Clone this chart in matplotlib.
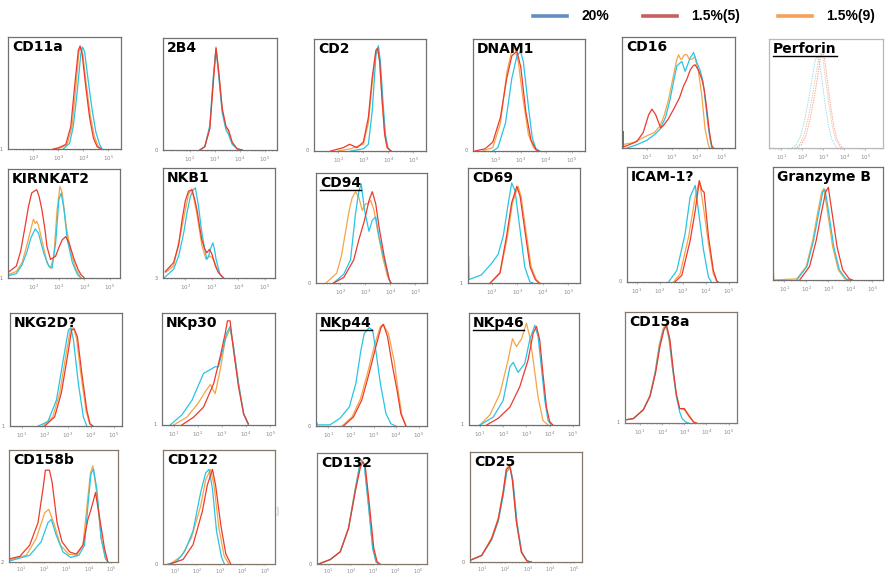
import numpy as np
import matplotlib

matplotlib.use("Agg")
import matplotlib.pyplot as plt  # noqa: E402
from matplotlib.lines import Line2D  # noqa: E402

W, H = 893, 578

SERIES = ["20%", "1.5%(5)", "1.5%(9)"]

# Curves: (log10 intensity, relative count), per marker.
CD11A = {
    "20%": ([3.2, 3.45, 3.6, 3.75, 3.9, 3.97, 4.05, 4.2, 4.35, 4.5, 4.65, 4.75],
            [0, 0.05, 0.2, 0.5, 0.85, 0.91, 0.87, 0.6, 0.35, 0.15, 0.04, 0]),
    "1.5%(5)": ([2.8, 3.0, 3.3, 3.5, 3.65, 3.8, 3.87, 3.95, 4.1, 4.25, 4.4, 4.55, 4.7],
                [0, 0.01, 0.04, 0.2, 0.55, 0.88, 0.92, 0.85, 0.55, 0.28, 0.1, 0.02, 0]),
    "1.5%(9)": ([2.9, 3.1, 3.35, 3.55, 3.7, 3.83, 3.9, 3.98, 4.12, 4.28, 4.43, 4.58, 4.72],
                [0, 0.01, 0.04, 0.2, 0.55, 0.88, 0.91, 0.85, 0.57, 0.3, 0.12, 0.03, 0]),
}
CD2B4 = {
    "20%": ([2.4, 2.6, 2.8, 2.95, 3.05, 3.15, 3.3, 3.45, 3.55, 3.7, 3.9, 4.1],
            [0, 0.03, 0.22, 0.68, 0.9, 0.68, 0.33, 0.18, 0.14, 0.05, 0.01, 0]),
    "1.5%(5)": ([2.4, 2.6, 2.8, 2.95, 3.05, 3.15, 3.3, 3.45, 3.55, 3.7, 3.9, 4.1],
                [0, 0.03, 0.19, 0.63, 0.91, 0.72, 0.37, 0.21, 0.18, 0.07, 0.01, 0]),
    "1.5%(9)": ([2.4, 2.6, 2.8, 2.95, 3.05, 3.15, 3.3, 3.45, 3.55, 3.7, 3.9, 4.1],
                [0, 0.03, 0.2, 0.65, 0.92, 0.71, 0.36, 0.2, 0.17, 0.06, 0.01, 0]),
}
CD2 = {
    "20%": ([2.5, 3.0, 3.2, 3.35, 3.5, 3.6, 3.68, 3.78, 3.88, 3.98, 4.1],
            [0, 0.02, 0.06, 0.35, 0.85, 0.94, 0.8, 0.45, 0.15, 0.03, 0]),
    "1.5%(5)": ([1.7, 2.2, 2.45, 2.75, 3.0, 3.2, 3.35, 3.5, 3.57, 3.65, 3.75, 3.85, 3.95, 4.1],
                [0, 0.03, 0.06, 0.03, 0.08, 0.3, 0.65, 0.9, 0.92, 0.8, 0.45, 0.15, 0.03, 0]),
    "1.5%(9)": ([2.0, 2.5, 3.0, 3.2, 3.35, 3.5, 3.57, 3.65, 3.75, 3.85, 3.95, 4.1],
                [0, 0.02, 0.06, 0.25, 0.6, 0.88, 0.91, 0.8, 0.45, 0.15, 0.03, 0]),
}
DNAM1 = {
    "20%": ([1.9, 2.1, 2.4, 2.65, 2.85, 2.99, 3.1, 3.3, 3.45, 3.6, 3.75],
            [0, 0.03, 0.25, 0.65, 0.85, 0.89, 0.8, 0.4, 0.12, 0.02, 0]),
    "1.5%(5)": ([1.2, 1.6, 1.9, 2.2, 2.45, 2.65, 2.85, 3.0, 3.2, 3.4, 3.6, 3.7],
                [0, 0.02, 0.08, 0.3, 0.65, 0.85, 0.89, 0.75, 0.35, 0.1, 0.01, 0]),
    "1.5%(9)": ([1.5, 1.9, 2.2, 2.45, 2.65, 2.75, 2.9, 3.1, 3.3, 3.5, 3.7],
                [0, 0.03, 0.25, 0.7, 0.9, 0.93, 0.8, 0.45, 0.15, 0.03, 0]),
}
CD16 = {
    "20%": ([1.2, 1.6, 2.0, 2.3, 2.53, 2.75, 2.93, 3.07, 3.2, 3.4, 3.53, 3.63, 3.73, 3.87,
             4.0, 4.13, 4.25, 4.33, 4.45, 4.53, 4.6],
            [0, 0.03, 0.07, 0.12, 0.17, 0.28, 0.44, 0.6, 0.74, 0.78, 0.69, 0.75, 0.81, 0.86,
             0.77, 0.7, 0.6, 0.44, 0.2, 0.08, 0]),
    "1.5%(5)": ([1.03, 1.04, 1.06, 1.3, 1.6, 1.85, 2.07, 2.2, 2.35, 2.55, 2.65, 2.85, 3.07,
                 3.3, 3.47, 3.6, 3.73, 3.85, 3.93, 4.07, 4.2, 4.3, 4.4, 4.5, 4.6, 4.67],
                [0, 0.15, 0.01, 0.03, 0.06, 0.14, 0.3, 0.35, 0.3, 0.18, 0.2, 0.26, 0.35,
                 0.45, 0.56, 0.62, 0.7, 0.74, 0.75, 0.7, 0.62, 0.52, 0.35, 0.15, 0.02, 0]),
    "1.5%(9)": ([1.02, 1.47, 2.0, 2.3, 2.53, 2.7, 2.87, 3.07, 3.2, 3.27, 3.35, 3.4, 3.5,
                 3.6, 3.7, 3.8, 3.93, 4.07, 4.2, 4.33, 4.47, 4.53],
                [0.03, 0.05, 0.11, 0.14, 0.2, 0.3, 0.44, 0.66, 0.8, 0.84, 0.8, 0.8, 0.84,
                 0.84, 0.8, 0.8, 0.82, 0.68, 0.47, 0.17, 0.02, 0]),
}
PERFORIN = {
    "20%": ([1.5, 1.7, 1.9, 2.1, 2.3, 2.5, 2.6, 2.7, 2.8, 2.95, 3.1, 3.25, 3.4, 3.6, 3.7],
            [0, 0.03, 0.1, 0.25, 0.45, 0.68, 0.8, 0.84, 0.8, 0.6, 0.38, 0.2, 0.08, 0.01, 0]),
    "1.5%(5)": ([1.75, 1.95, 2.15, 2.35, 2.55, 2.75, 2.85, 2.95, 3.05, 3.2, 3.35, 3.5,
                 3.65, 3.85, 3.95],
                [0, 0.03, 0.1, 0.25, 0.45, 0.68, 0.82, 0.89, 0.83, 0.6, 0.38, 0.2, 0.08,
                 0.01, 0]),
    "1.5%(9)": ([1.65, 1.85, 2.05, 2.25, 2.45, 2.65, 2.78, 2.88, 2.98, 3.12, 3.28, 3.42,
                 3.58, 3.78, 3.9],
                [0, 0.03, 0.1, 0.25, 0.45, 0.68, 0.82, 0.87, 0.82, 0.6, 0.38, 0.2, 0.08,
                 0.01, 0]),
}
KIRNKAT2 = {
    "20%": ([1.0, 1.33, 1.55, 1.73, 1.9, 2.07, 2.2, 2.4, 2.6, 2.73, 2.87, 3.0, 3.09, 3.2,
             3.33, 3.53, 3.73, 3.87],
            [0.02, 0.04, 0.12, 0.23, 0.37, 0.45, 0.41, 0.23, 0.11, 0.09, 0.32, 0.72, 0.78,
             0.63, 0.35, 0.14, 0.03, 0]),
    "1.5%(5)": ([1.0, 1.33, 1.5, 1.67, 1.8, 1.93, 2.05, 2.13, 2.22, 2.33, 2.45, 2.53, 2.67,
                 2.87, 3.0, 3.13, 3.27, 3.4, 3.6, 3.75, 3.87, 4.0],
                [0.05, 0.11, 0.25, 0.47, 0.65, 0.78, 0.8, 0.81, 0.75, 0.63, 0.45, 0.29, 0.17,
                 0.2, 0.28, 0.35, 0.38, 0.32, 0.17, 0.08, 0.03, 0]),
    "1.5%(9)": ([1.0, 1.33, 1.55, 1.73, 1.9, 2.0, 2.07, 2.13, 2.2, 2.33, 2.53, 2.67, 2.8,
                 2.93, 3.04, 3.13, 3.27, 3.47, 3.67, 3.87],
                [0.03, 0.06, 0.14, 0.29, 0.45, 0.54, 0.5, 0.52, 0.48, 0.35, 0.14, 0.09, 0.2,
                 0.63, 0.84, 0.78, 0.5, 0.23, 0.08, 0]),
}
NKB1 = {
    "20%": ([1.2, 1.56, 1.75, 1.94, 2.07, 2.19, 2.3, 2.38, 2.5, 2.6, 2.69, 2.81, 2.88,
             2.94, 3.04, 3.1, 3.16, 3.31, 3.44],
            [0, 0.08, 0.2, 0.41, 0.6, 0.74, 0.8, 0.82, 0.65, 0.45, 0.32, 0.17, 0.2, 0.26,
             0.32, 0.26, 0.17, 0.03, 0]),
    "1.5%(5)": ([1.25, 1.56, 1.75, 1.88, 2.0, 2.12, 2.25, 2.35, 2.44, 2.55, 2.62, 2.72,
                 2.81, 2.91, 3.0, 3.06, 3.15, 3.25, 3.44],
                [0.06, 0.14, 0.3, 0.53, 0.7, 0.79, 0.8, 0.72, 0.62, 0.45, 0.35, 0.27, 0.23,
                 0.26, 0.22, 0.17, 0.1, 0.05, 0]),
    "1.5%(9)": ([1.25, 1.56, 1.88, 2.12, 2.25, 2.44, 2.62, 2.78, 2.94, 3.06, 3.25, 3.44],
                [0.05, 0.11, 0.47, 0.76, 0.81, 0.58, 0.3, 0.17, 0.2, 0.17, 0.05, 0]),
}
CD94 = {
    "20%": ([1.73, 2.14, 2.41, 2.61, 2.74, 2.84, 2.97, 3.15, 3.28, 3.42, 3.55, 3.76, 3.96,
             4.03],
            [0, 0.08, 0.21, 0.63, 0.83, 0.9, 0.66, 0.47, 0.57, 0.6, 0.42, 0.21, 0.03, 0]),
    "1.5%(5)": ([1.73, 2.14, 2.54, 2.74, 2.97, 3.15, 3.28, 3.42, 3.55, 3.76, 3.96, 4.03],
                [0, 0.05, 0.21, 0.39, 0.57, 0.75, 0.83, 0.72, 0.51, 0.24, 0.03, 0]),
    "1.5%(9)": ([1.43, 1.86, 2.05, 2.2, 2.35, 2.47, 2.61, 2.74, 2.88, 3.01, 3.1, 3.22, 3.35,
                 3.49, 3.69, 3.89, 4.03],
                [0, 0.09, 0.25, 0.45, 0.65, 0.77, 0.83, 0.78, 0.66, 0.72, 0.72, 0.75, 0.66,
                 0.48, 0.24, 0.06, 0]),
}
CD69 = {
    "20%": ([1.09, 1.1, 1.12, 1.6, 2.0, 2.26, 2.46, 2.66, 2.79, 2.92, 3.1, 3.3, 3.5, 3.62],
            [0, 0.23, 0.03, 0.07, 0.17, 0.25, 0.41, 0.7, 0.87, 0.8, 0.49, 0.14, 0.01, 0]),
    "1.5%(5)": ([1.95, 2.33, 2.59, 2.79, 2.99, 3.12, 3.32, 3.51, 3.71, 3.85],
                [0, 0.09, 0.41, 0.7, 0.84, 0.75, 0.43, 0.14, 0.03, 0]),
    "1.5%(9)": ([1.95, 2.33, 2.62, 2.82, 3.04, 3.16, 3.36, 3.55, 3.75, 3.9],
                [0, 0.08, 0.4, 0.7, 0.84, 0.75, 0.43, 0.14, 0.03, 0]),
}
ICAM1 = {
    "20%": ([2.38, 2.74, 3.1, 3.32, 3.54, 3.68, 3.9, 4.12, 4.25],
            [0, 0.1, 0.42, 0.74, 0.84, 0.62, 0.28, 0.04, 0]),
    "1.5%(5)": ([2.66, 2.96, 3.32, 3.54, 3.72, 3.83, 3.93, 4.12, 4.33, 4.48, 4.55],
                [0, 0.06, 0.36, 0.62, 0.88, 0.8, 0.78, 0.39, 0.1, 0.01, 0]),
    "1.5%(9)": ([2.59, 2.88, 3.25, 3.54, 3.72, 3.9, 4.12, 4.33, 4.48],
                [0, 0.07, 0.39, 0.74, 0.88, 0.65, 0.33, 0.07, 0]),
}
GRANZYME_B = {
    "20%": ([1.57, 2.03, 2.33, 2.56, 2.75, 2.85, 3.0, 3.25, 3.5, 3.8, 3.95],
            [0, 0.12, 0.35, 0.59, 0.78, 0.8, 0.62, 0.29, 0.09, 0.01, 0]),
    "1.5%(5)": ([1.7, 2.15, 2.45, 2.68, 2.88, 3.0, 3.15, 3.4, 3.65, 3.95, 4.1],
                [0, 0.12, 0.35, 0.59, 0.78, 0.82, 0.62, 0.29, 0.09, 0.01, 0]),
    "1.5%(9)": ([0.5, 0.51, 0.53, 1.57, 2.0, 2.3, 2.52, 2.7, 2.8, 2.95, 3.2, 3.45, 3.75, 3.9],
                [0, 0.06, 0, 0.01, 0.12, 0.36, 0.6, 0.78, 0.81, 0.62, 0.29, 0.09, 0.01, 0]),
}
NKG2D = {
    "20%": ([1.72, 2.14, 2.51, 2.8, 3.03, 3.14, 3.25, 3.46, 3.68, 3.83],
            [0, 0.04, 0.23, 0.58, 0.85, 0.87, 0.76, 0.38, 0.08, 0]),
    "1.5%(5)": ([2.0, 2.43, 2.72, 2.96, 3.17, 3.28, 3.42, 3.61, 3.83, 3.97, 4.1],
                [0, 0.08, 0.29, 0.58, 0.85, 0.86, 0.79, 0.47, 0.14, 0.02, 0]),
    "1.5%(9)": ([1.9, 2.35, 2.65, 2.9, 3.12, 3.24, 3.38, 3.57, 3.8, 3.95, 4.05],
                [0, 0.08, 0.29, 0.6, 0.86, 0.87, 0.78, 0.46, 0.13, 0.02, 0]),
}
NKP30 = {
    "20%": ([0.86, 1.34, 1.76, 2.0, 2.24, 2.48, 2.72, 2.86, 3.0, 3.2, 3.34, 3.48, 3.69,
             3.9, 4.1],
            [0, 0.09, 0.22, 0.34, 0.46, 0.49, 0.52, 0.52, 0.64, 0.82, 0.88, 0.7, 0.37,
             0.1, 0]),
    "1.5%(5)": ([1.34, 1.83, 2.24, 2.66, 2.93, 3.14, 3.23, 3.34, 3.48, 3.69, 3.9, 4.1],
                [0, 0.07, 0.16, 0.37, 0.61, 0.82, 0.93, 0.93, 0.67, 0.34, 0.1, 0.01]),
    "1.5%(9)": ([1.0, 1.55, 2.0, 2.35, 2.52, 2.72, 2.93, 3.14, 3.34, 3.48, 3.69, 3.9, 4.1],
                [0, 0.07, 0.19, 0.31, 0.36, 0.28, 0.49, 0.76, 0.86, 0.7, 0.37, 0.1, 0]),
}
NKP44 = {
    "20%": ([0.47, 0.48, 0.5, 1.07, 1.52, 1.93, 2.22, 2.44, 2.59, 2.81, 2.96, 3.1, 3.3,
             3.55, 3.77, 3.98],
            [0, 0.03, 0.01, 0.01, 0.07, 0.17, 0.38, 0.67, 0.82, 0.87, 0.85, 0.67, 0.38,
             0.11, 0.02, 0]),
    "1.5%(5)": ([1.67, 2.11, 2.48, 2.81, 3.1, 3.33, 3.44, 3.62, 3.84, 4.04, 4.21, 4.43],
                [0, 0.08, 0.23, 0.47, 0.7, 0.87, 0.9, 0.79, 0.53, 0.32, 0.11, 0]),
    "1.5%(9)": ([1.6, 2.05, 2.42, 2.75, 3.05, 3.3, 3.42, 3.66, 3.92, 4.1, 4.25, 4.45],
                [0, 0.08, 0.24, 0.48, 0.72, 0.88, 0.9, 0.82, 0.57, 0.3, 0.1, 0]),
}
NKP46 = {
    "20%": ([1.0, 1.57, 2.0, 2.29, 2.43, 2.64, 2.93, 3.14, 3.36, 3.5, 3.64, 3.79, 3.93,
             4.07],
            [0, 0.07, 0.22, 0.52, 0.56, 0.47, 0.55, 0.76, 0.89, 0.79, 0.52, 0.22, 0.04, 0]),
    "1.5%(5)": ([1.29, 1.79, 2.29, 2.71, 3.07, 3.29, 3.43, 3.57, 3.71, 3.86, 4.0, 4.14],
                [0, 0.06, 0.16, 0.34, 0.58, 0.82, 0.88, 0.76, 0.46, 0.16, 0.03, 0]),
    "1.5%(9)": ([1.0, 1.43, 1.86, 2.21, 2.4, 2.57, 2.79, 3.0, 3.14, 3.29, 3.5, 3.71, 3.93],
                [0, 0.09, 0.28, 0.58, 0.77, 0.7, 0.77, 0.91, 0.79, 0.58, 0.25, 0.04, 0]),
}
CD158A = {
    "20%": ([0.4, 0.7, 1.15, 1.45, 1.68, 1.88, 2.06, 2.18, 2.33, 2.48, 2.64, 2.79, 2.9,
             3.05, 3.2],
            [0.03, 0.04, 0.12, 0.24, 0.45, 0.69, 0.84, 0.88, 0.75, 0.48, 0.24, 0.1, 0.04,
             0.01, 0]),
    "1.5%(5)": ([0.4, 0.7, 1.15, 1.45, 1.7, 1.9, 2.08, 2.2, 2.35, 2.5, 2.64, 2.79, 3.0,
                 3.2, 3.42, 3.55],
                [0.03, 0.04, 0.12, 0.24, 0.45, 0.69, 0.84, 0.88, 0.75, 0.48, 0.26, 0.13,
                 0.13, 0.07, 0.01, 0]),
    "1.5%(9)": ([0.4, 0.7, 1.15, 1.45, 1.68, 1.86, 2.04, 2.16, 2.3, 2.46, 2.64, 2.79, 3.0,
                 3.2, 3.4, 3.5],
                [0.03, 0.04, 0.12, 0.25, 0.46, 0.7, 0.85, 0.89, 0.76, 0.5, 0.25, 0.13,
                 0.12, 0.06, 0.01, 0]),
}
CD158B = {
    "20%": ([0.5, 1.37, 1.88, 2.18, 2.33, 2.55, 2.85, 3.2, 3.56, 3.81, 3.96, 4.1, 4.21,
             4.36, 4.55, 4.74, 4.85],
            [0.01, 0.06, 0.18, 0.35, 0.38, 0.24, 0.09, 0.04, 0.06, 0.15, 0.5, 0.79, 0.83,
             0.65, 0.21, 0.03, 0]),
    "1.5%(5)": ([0.5, 0.93, 1.37, 1.74, 1.96, 2.07, 2.25, 2.37, 2.59, 2.81, 3.15, 3.44,
                 3.74, 3.96, 4.1, 4.3, 4.47, 4.7, 4.85],
                [0.03, 0.05, 0.15, 0.35, 0.65, 0.82, 0.82, 0.71, 0.35, 0.18, 0.09, 0.07,
                 0.15, 0.38, 0.47, 0.62, 0.41, 0.12, 0]),
    "1.5%(9)": ([0.5, 1.22, 1.66, 2.04, 2.22, 2.44, 2.74, 3.1, 3.47, 3.74, 3.92, 4.07,
                 4.18, 4.33, 4.55, 4.74, 4.85],
                [0.02, 0.06, 0.21, 0.44, 0.47, 0.35, 0.15, 0.07, 0.06, 0.15, 0.5, 0.79,
                 0.86, 0.65, 0.21, 0.04, 0]),
}
CD122 = {
    "20%": ([0.7, 1.07, 1.44, 1.81, 2.15, 2.37, 2.52, 2.67, 2.85, 3.07, 3.2],
            [0, 0.02, 0.11, 0.29, 0.63, 0.8, 0.83, 0.66, 0.29, 0.06, 0]),
    "1.5%(5)": ([0.8, 1.37, 1.81, 2.22, 2.44, 2.67, 2.81, 3.04, 3.26, 3.48],
                [0, 0.04, 0.17, 0.46, 0.69, 0.83, 0.69, 0.34, 0.09, 0]),
    "1.5%(9)": ([0.8, 1.3, 1.74, 2.15, 2.37, 2.59, 2.74, 2.96, 3.19, 3.4],
                [0, 0.07, 0.23, 0.51, 0.74, 0.83, 0.69, 0.31, 0.07, 0]),
}
CD132 = {
    "20%": ([0.55, 1.07, 1.52, 1.89, 2.19, 2.38, 2.48, 2.59, 2.78, 2.97, 3.12, 3.25],
            [0, 0.04, 0.11, 0.32, 0.67, 0.88, 0.93, 0.9, 0.53, 0.14, 0.02, 0]),
    "1.5%(5)": ([0.55, 1.07, 1.52, 1.89, 2.2, 2.42, 2.53, 2.64, 2.83, 3.02, 3.17, 3.3],
                [0, 0.04, 0.11, 0.32, 0.66, 0.87, 0.92, 0.88, 0.52, 0.14, 0.02, 0]),
    "1.5%(9)": ([0.55, 1.07, 1.52, 1.89, 2.19, 2.38, 2.48, 2.59, 2.78, 2.97, 3.12, 3.25],
                [0, 0.04, 0.11, 0.33, 0.68, 0.88, 0.94, 0.9, 0.54, 0.15, 0.02, 0]),
}
CD25 = {
    "20%": ([0.55, 1.0, 1.43, 1.72, 1.93, 2.09, 2.24, 2.36, 2.54, 2.75, 2.98, 3.15],
            [0.02, 0.06, 0.2, 0.37, 0.6, 0.82, 0.86, 0.74, 0.35, 0.08, 0.01, 0]),
    "1.5%(5)": ([0.55, 1.0, 1.43, 1.72, 1.93, 2.07, 2.22, 2.33, 2.51, 2.72, 2.96, 3.15],
                [0.02, 0.06, 0.21, 0.39, 0.63, 0.84, 0.87, 0.75, 0.36, 0.09, 0.01, 0]),
    "1.5%(9)": ([0.55, 1.0, 1.43, 1.72, 1.93, 2.07, 2.22, 2.33, 2.51, 2.72, 2.96, 3.15],
                [0.02, 0.06, 0.22, 0.4, 0.64, 0.85, 0.88, 0.76, 0.37, 0.1, 0.01, 0]),
}

# styling
COLORS = {"20%": "#28c4e4", "1.5%(5)": "#ec3a2e", "1.5%(9)": "#f5a446"}
FAINT = {"20%": "#9fdcec", "1.5%(5)": "#f2a8a8", "1.5%(9)": "#f6c89a"}
LEGEND_COLORS = {"20%": "#4f81bd", "1.5%(5)": "#c0504d", "1.5%(9)": "#f79646"}
DRAW_ORDER = ["1.5%(9)", "20%", "1.5%(5)"]
GRAY_FRAME = "#707070"
BROWN_FRAME = "#85786b"

# (title, curves, pixel box l/t/r/b, x range in decades, ticks, y label, underline, faint, frame)
PANELS = [
    ("CD11a", CD11A, (8, 37, 121, 149), (1.0, 5.5), [2, 3, 4, 5], "1", False, False, GRAY_FRAME),
    ("2B4", CD2B4, (163, 38, 277, 150), (0.92, 5.5), [2, 3, 4, 5], "0", False, False, GRAY_FRAME),
    ("CD2", CD2, (314, 39, 426, 151), (1.03, 5.5), [2, 3, 4, 5], "0", False, False, GRAY_FRAME),
    ("DNAM1", DNAM1, (473, 39, 585, 151), (1.12, 5.53), [2, 3, 4, 5], "0", False, False, GRAY_FRAME),
    ("CD16", CD16, (622, 37, 735, 148), (1.0, 5.53), [2, 3, 4, 5], "", False, False, GRAY_FRAME),
    ("Perforin", PERFORIN, (769, 39, 883, 148), (0.41, 5.84), [1, 2, 3, 4, 5], "", True, True, "#b8b8b8"),
    ("KIRNKAT2", KIRNKAT2, (8, 169, 120, 278), (1.0, 5.4), [2, 3, 4, 5], "1", False, False, GRAY_FRAME),
    ("NKB1", NKB1, (163, 168, 275, 278), (1.16, 5.38), [2, 3, 4, 5], "3", False, False, GRAY_FRAME),
    ("CD94", CD94, (316, 173, 427, 283), (1.03, 5.47), [2, 3, 4, 5], "0", True, False, GRAY_FRAME),
    ("CD69", CD69, (468, 168, 580, 283), (1.08, 5.46), [2, 3, 4, 5], "1", False, False, GRAY_FRAME),
    ("ICAM-1?", ICAM1, (627, 167, 737, 282), (0.57, 5.36), [1, 2, 3, 4, 5], "0", False, False, GRAY_FRAME),
    ("Granzyme B", GRANZYME_B, (773, 167, 883, 280), (0.49, 5.48), [1, 2, 3, 4, 5], "", False, False, GRAY_FRAME),
    ("NKG2D?", NKG2D, (10, 313, 122, 426), (0.49, 5.36), [1, 2, 3, 4, 5], "1", False, False, GRAY_FRAME),
    ("NKp30", NKP30, (162, 313, 275, 425), (0.52, 5.2), [1, 2, 3, 4, 5], "1", False, False, GRAY_FRAME),
    ("NKp44", NKP44, (316, 313, 427, 426), (0.45, 5.37), [1, 2, 3, 4, 5], "0", True, False, GRAY_FRAME),
    ("NKp46", NKP46, (469, 313, 579, 425), (0.53, 5.26), [1, 2, 3, 4, 5], "1", True, False, GRAY_FRAME),
    ("CD158a", CD158A, (625, 312, 737, 423), (0.32, 5.38), [1, 2, 3, 4, 5], "1", False, False, BROWN_FRAME),
    ("CD158b", CD158B, (9, 450, 118, 562), (0.45, 5.3), [1, 2, 3, 4, 5], "2", False, False, BROWN_FRAME),
    ("CD122", CD122, (163, 450, 275, 564), (0.48, 5.44), [1, 2, 3, 4, 5], "0", False, False, BROWN_FRAME),
    ("CD132", CD132, (317, 453, 427, 564), (0.48, 5.4), [1, 2, 3, 4, 5], "0", False, False, BROWN_FRAME),
    ("CD25", CD25, (470, 452, 582, 562), (0.49, 5.36), [1, 2, 3, 4, 5], "0", False, False, BROWN_FRAME),
]

fig = plt.figure(figsize=(W / 100, H / 100), dpi=100)
fig.patch.set_facecolor("white")

titles = []
for name, curves, box, xr, ticks, ylab, underline, faint, frame in PANELS:
    l, t, r, b = box
    ax = fig.add_axes([l / W, 1 - b / H, (r - l) / W, (b - t) / H])
    ax.set_xscale("log")
    ax.set_xlim(10 ** xr[0], 10 ** xr[1])
    ax.set_ylim(0, 1)
    for key in DRAW_ORDER:
        lx, ly = curves[key]
        if faint:
            ax.plot(10 ** np.array(lx), ly, color=FAINT[key], lw=0.7, ls=(0, (1.5, 1)))
        else:
            ax.plot(10 ** np.array(lx), ly, color=COLORS[key], lw=0.9)
    ax.set_xticks([10.0 ** k for k in ticks])
    ax.set_xticklabels([f"$10^{k}$" for k in ticks])
    bottom_row = b > 500
    ax.tick_params(axis="x", which="major", labelsize=4 if not bottom_row else 3.6,
                   labelcolor="#8a8a8a", color="#999999",
                   length=1.5 if not bottom_row else 1, width=0.5,
                   pad=2 if not bottom_row else 0.8)
    ax.tick_params(axis="x", which="minor", color="#aaaaaa", length=1, width=0.4)
    ax.set_yticks([])
    for s in ax.spines.values():
        s.set_color(frame)
        s.set_linewidth(0.9)
    if ylab:
        ax.text(-0.045, 0.0, ylab, transform=ax.transAxes, fontsize=3.5,
                color="#777777", ha="right", va="center")
    txt = ax.text(0.035, 0.975, name, transform=ax.transAxes, ha="left", va="top",
                  fontsize=10, fontweight="bold", color="black",
                  fontfamily="DejaVu Sans")
    if underline:
        titles.append(txt)

# tiny axis caption left over from the export
fig.text(279 / W, 1 - 510 / H, "Count", rotation=90, fontsize=2.5, color="#aaaaaa",
         ha="center", va="center")

# underline the marked titles
fig.canvas.draw()
renderer = fig.canvas.get_renderer()
inv = fig.transFigure.inverted()
for txt in titles:
    bb = txt.get_window_extent(renderer)
    (x0, y0), (x1, _) = inv.transform([[bb.x0, bb.y0], [bb.x1, bb.y1]])
    fig.add_artist(Line2D([x0, x1], [y0, y0], color="black", lw=1.0,
                          transform=fig.transFigure))

# legend across the top
leg_x = {"20%": 533, "1.5%(5)": 643, "1.5%(9)": 778}
for key in SERIES:
    x0 = leg_x[key]
    y = 1 - 16 / H
    fig.add_artist(Line2D([x0 / W, (x0 + 34) / W], [y, y], color=LEGEND_COLORS[key],
                          lw=2.6, alpha=0.9, transform=fig.transFigure))
    fig.text((x0 + 48) / W, y, key, fontsize=10, fontweight="bold",
             fontfamily="Liberation Sans", ha="left", va="center", color="black")

fig.savefig("out.png", dpi=100, facecolor="white")
